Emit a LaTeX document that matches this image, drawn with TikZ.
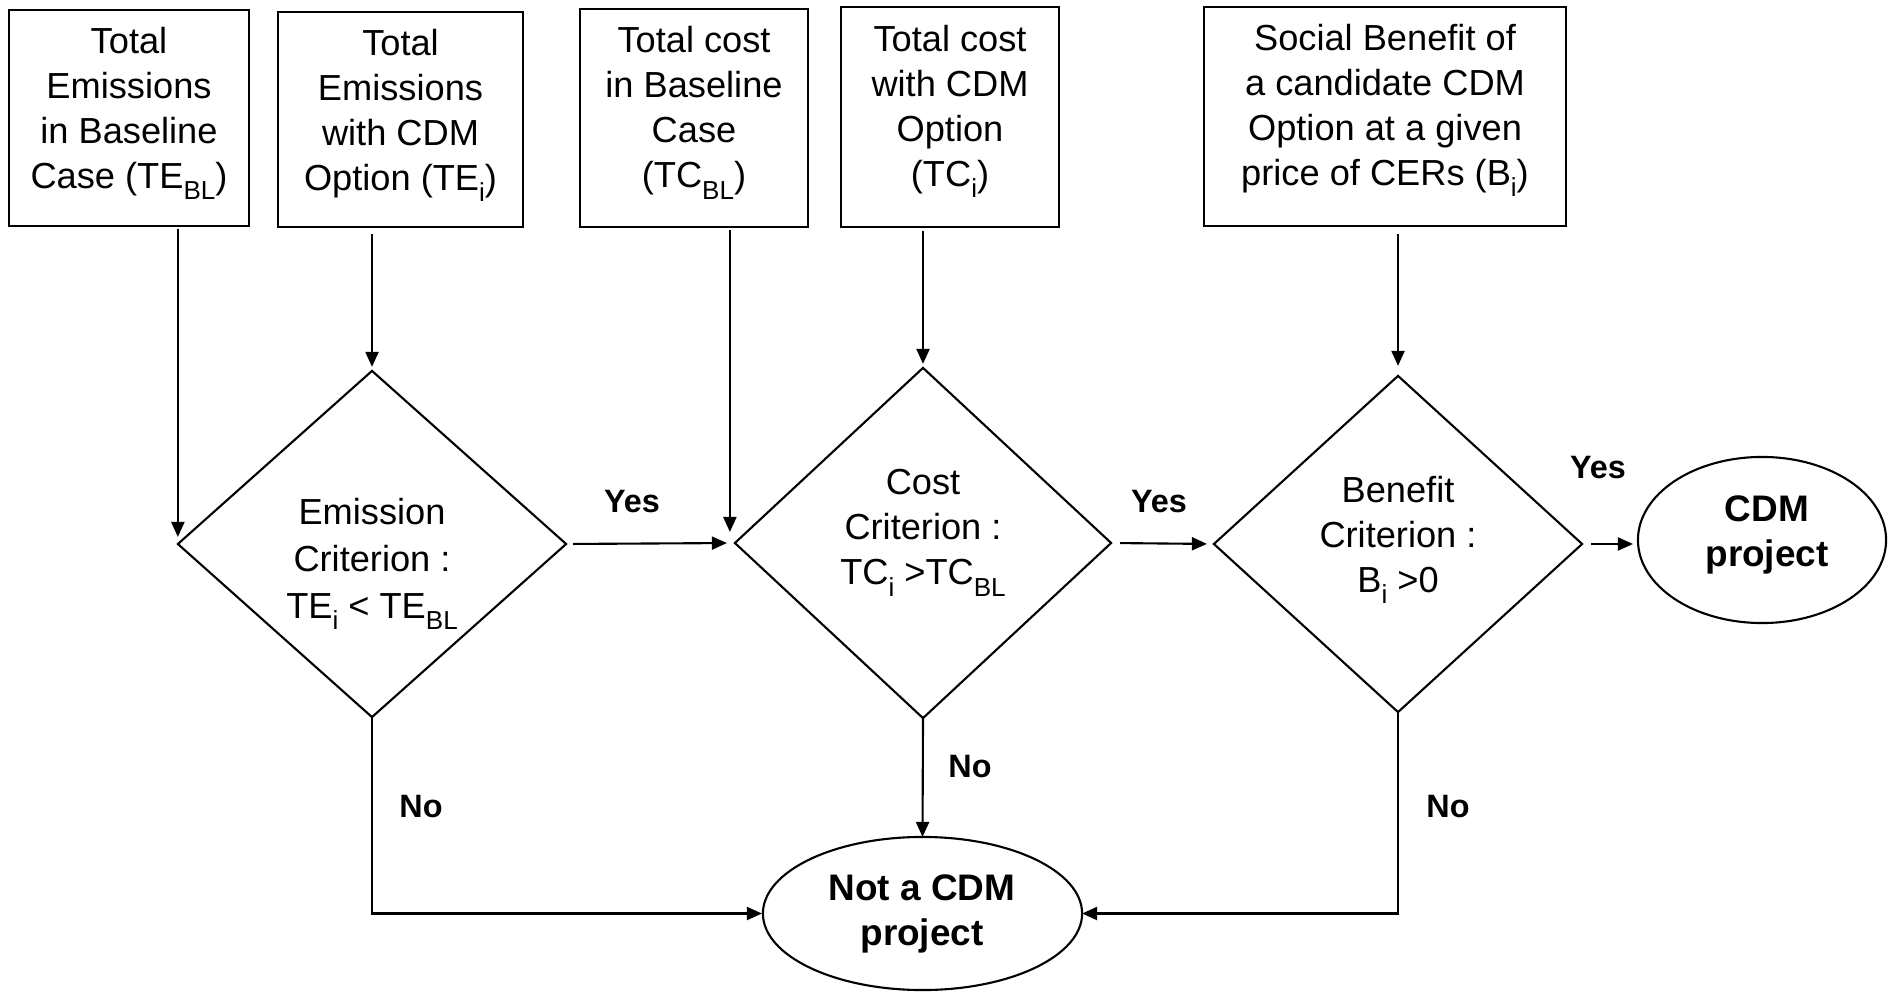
\documentclass[tikz,border=0pt]{standalone}
\usepackage{fontspec}
\setmainfont{Liberation Sans}
\usetikzlibrary{shapes.geometric,arrows.meta,calc}
\newcommand\lowsub[1]{\raisebox{-3.3pt}{\fontsize{7.4}{8}\selectfont #1}}
\begin{document}
\begin{tikzpicture}[x=0.01cm,y=-0.01cm,
  box/.style={draw,line width=0.65pt,inner sep=0,outer sep=0},
  dia/.style={draw,diamond,line width=0.6pt,inner sep=0,outer sep=0},
  term/.style={draw,ellipse,line width=0.6pt,inner sep=0,outer sep=0},
  lbl/.style={font=\fontsize{10.3}{12.8}\selectfont,align=center,inner sep=0},
  tlbl/.style={font=\fontsize{10.5}{12.8}\selectfont\bfseries,align=center,inner sep=0},
  yn/.style={font=\fontsize{9.2}{11}\selectfont\bfseries,inner sep=0},
  arr/.style={line width=0.6pt,-{Triangle[length=1.5mm,width=1.3mm]}}]
\useasboundingbox (0,0) rectangle (1889,992);
% input boxes
\node[box,minimum width=2.40cm,minimum height=2.16cm] (b1) at (129,118) {};
\node[box,minimum width=2.45cm,minimum height=2.15cm] (b2) at (400.5,119.5) {};
\node[box,minimum width=2.28cm,minimum height=2.18cm] (b3) at (694,118) {};
\node[box,minimum width=2.18cm,minimum height=2.20cm] (b4) at (950,117) {};
\node[box,minimum width=3.62cm,minimum height=2.19cm] (b5) at (1385,116.5) {};
\node[lbl] (t1) at (129,113.5) {Total\\Emissions\\in Baseline\\Case (TE\lowsub{BL})};
\node[lbl] (t2) at (400.5,115.5) {Total\\Emissions\\with CDM\\Option (TE\lowsub{i})};
\node[lbl] (t3) at (694,113) {Total cost\\in Baseline\\Case\\(TC\lowsub{BL})};
\node[lbl] (t4) at (950,111.5) {Total cost\\with CDM\\Option\\(TC\lowsub{i})};
\node[lbl] (t5) at (1385,110.5) {Social Benefit of\\a candidate CDM\\Option at a given\\price of CERs (B\lowsub{i})};
% decisions
\node[dia,minimum width=3.88cm,minimum height=3.46cm] (d1) at (372,544) {};
\node[dia,minimum width=3.76cm,minimum height=3.50cm] (d2) at (923,543) {};
\node[dia,minimum width=3.68cm,minimum height=3.36cm] (d3) at (1398,544) {};
\node[lbl,font=\fontsize{10.3}{13.3}\selectfont] (dt1) at (372,564) {Emission\\Criterion :\\TE\lowsub{i} < TE\lowsub{BL}};
\node[lbl] (dt2) at (923,533) {Cost\\Criterion :\\TC\lowsub{i} >TC\lowsub{BL}};
\node[lbl] (dt3) at (1398,540) {Benefit\\Criterion :\\B\lowsub{i} >0};
% terminals
\node[term,minimum width=2.48cm,minimum height=1.66cm] (cdm) at (1762,540) {};
\node[tlbl] (ct) at (1767,535) {CDM\\project};
\node[term,minimum width=3.19cm,minimum height=1.53cm] (nc) at (922.5,913.5) {};
\node[tlbl] (nt) at (922,914) {Not a CDM\\project};
% helper
\coordinate (d2w) at ($(d2.west)+(-5,0)$);
% connectors
\draw[arr,shorten <=0.03cm,shorten >=0.07cm] (b1.south -| d1.west) -- (d1.west);
\draw[arr,shorten <=0.07cm,shorten >=0.04cm] (b2.south -| d1.north) -- (d1.north);
\draw[arr,shorten <=0.03cm,shorten >=0.11cm] (b3.south -| d2w) -- (d2w);
\draw[arr,shorten <=0.04cm,shorten >=0.04cm] (b4.south -| d2.north) -- (d2.north);
\draw[arr,shorten <=0.08cm,shorten >=0.10cm] (b5.south -| d3.north) -- (d3.north);
\draw[arr,shorten <=0.07cm,shorten >=0.08cm] (d1.east) -- (d2.west);
\draw[arr,shorten <=0.09cm,shorten >=0.07cm] (d2.east) -- (d3.west);
\draw[arr,shorten <=0.09cm,shorten >=0.05cm] (d3.east) -- (d3.east -| cdm.west);
\draw[arr,shorten >=0.01cm] (d1.south) |- (nc.west);
\draw[arr] (d2.south) -- (nc.north);
\draw[arr] (d3.south) |- (nc.east);
% labels
\node[yn] (y1) at (632,502) {Yes};
\node[yn] (y2) at (1159,502) {Yes};
\node[yn] (y3) at (1598,468) {Yes};
\node[yn] (n1) at (421,807) {No};
\node[yn] (n2) at (970,767) {No};
\node[yn] (n3) at (1448,807) {No};
\end{tikzpicture}
\end{document}
